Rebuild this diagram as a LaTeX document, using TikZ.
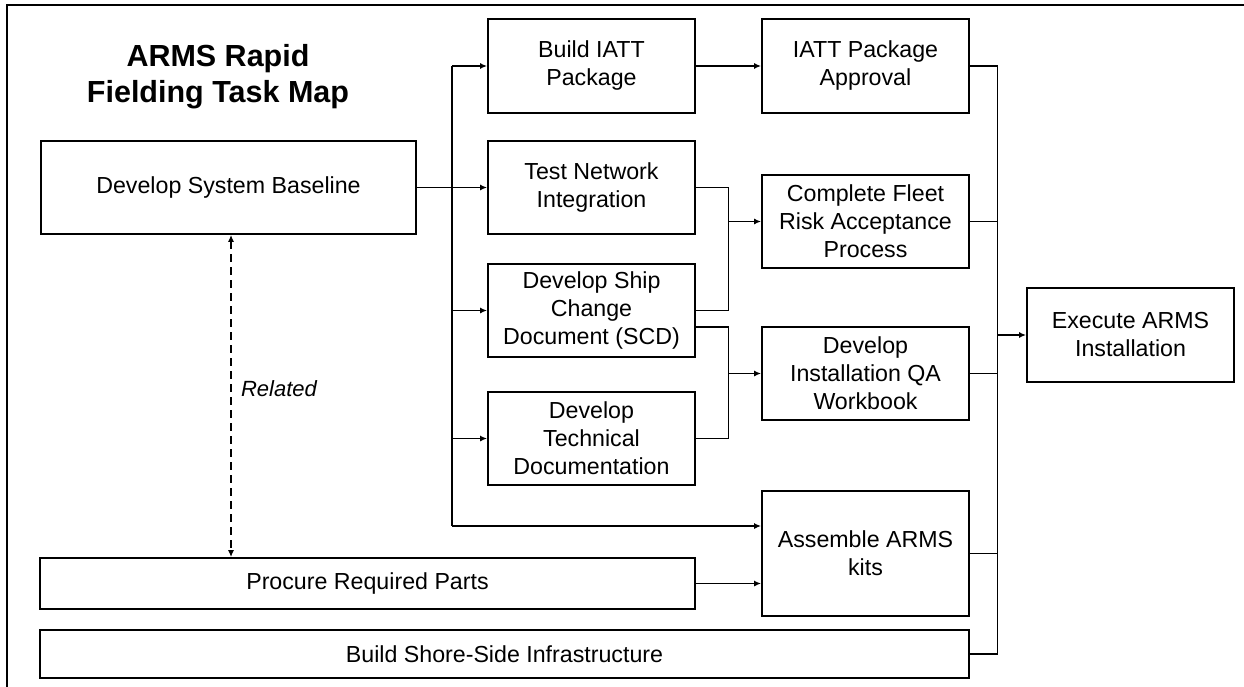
\documentclass[tikz,border=0pt]{standalone}
\usepackage{fontspec}
\setmainfont{Liberation Sans}
\usetikzlibrary{arrows.meta}
\begin{document}
\begin{tikzpicture}[x=1pt,y=-1pt,
  box/.style={draw, line width=1.8pt, align=center, inner sep=0pt,
    font=\fontsize{23.2}{28}\selectfont},
  conn/.style={line width=1.7pt},
  arr/.style={conn, -{Latex[length=7pt,width=6pt]}},
  rel/.style={line width=1.3pt, dash pattern=on 8pt off 5pt,
    {Latex[length=7pt,width=6pt]}-{Latex[length=7pt,width=6pt]}},
  frame/.style={line width=1.2pt}]
\useasboundingbox (0,0) rectangle (1244,687);
% frame (top and left edges)
\draw[frame] (1244,5) -- (7,5) -- (7,687);
% title
\node[align=center, inner sep=0pt, font=\fontsize{30.5}{36}\selectfont\bfseries] (title) at (218,77) {ARMS Rapid\\Fielding Task Map};
% boxes
\node[box, minimum width=375pt, minimum height=93pt] (base) at (228.5,187.5) {Develop System Baseline};
\node[box, minimum width=207pt, minimum height=94pt] (build) at (591.5,66) {Build IATT\\Package};
\node[box, minimum width=207pt, minimum height=94pt] (appr) at (865.5,66) {IATT Package\\Approval};
\node[box, minimum width=207pt, minimum height=93pt] (test) at (591.5,187.5) {Test Network\\Integration};
\node[box, minimum width=207pt, minimum height=93pt] (fleet) at (865.5,221.5) {Complete Fleet\\Risk Acceptance\\Process};
\node[box, minimum width=207pt, minimum height=93pt] (scd) at (591.5,310.5) {Develop Ship\\Change\\Document (SCD)};
\node[box, minimum width=207pt, minimum height=93pt] (qa) at (865.5,373.5) {Develop\\Installation QA\\Workbook};
\node[box, minimum width=207pt, minimum height=93pt] (tech) at (591.5,438.5) {Develop\\Technical\\Documentation};
\node[box, minimum width=207pt, minimum height=94pt] (exec) at (1130.5,335) {Execute ARMS\\Installation};
\node[box, minimum width=207pt, minimum height=125pt] (asm) at (865.5,553.5) {Assemble ARMS\\kits};
\node[box, minimum width=655pt, minimum height=51pt] (proc) at (367.5,583.5) {Procure Required Parts};
\node[box, minimum width=929pt, minimum height=48pt] (shore) at (504.5,654) {Build Shore-Side Infrastructure};
% related label
\node[inner sep=0pt, font=\fontsize{22}{26}\selectfont\itshape] (rellab) at (279,389) {Related};
% trunk from baseline
\coordinate (tktop) at (452,66);
\coordinate (tkbot) at (452,526);
\draw[arr] (base.east) -- (test.west);
\draw[conn] (tktop) -- (tkbot);
\draw[arr] (tktop) -- (build.west);
\draw[arr] (tktop |- scd.west) -- (scd.west);
\draw[arr] (tktop |- tech.west) -- (tech.west);
\draw[arr] (tkbot) -- (tkbot -| asm.west);
% build -> approval
\draw[arr] (build.east) -- (appr.west);
% merge to fleet
\coordinate (j1) at (728.5,221.5);
\draw[conn] (test.east) -| (j1) |- (scd.east);
\draw[arr] (j1) -- (fleet.west);
% merge to qa
\coordinate (j2) at (728.5,373.5);
\draw[conn] ([yshift=-16.5pt]scd.east) -| (j2) |- (tech.east);
\draw[arr] (j2) -- (qa.west);
% procure -> assemble
\draw[arr] (proc.east) -- (proc.east -| asm.west);
% bus to execute
\coordinate (btop) at (997.5,66);
\coordinate (bbot) at (997.5,654);
\draw[conn] (appr.east) -- (btop) -- (bbot) -- (shore.east);
\draw[conn] (fleet.east) -- (fleet.east -| btop);
\draw[conn] (qa.east) -- (qa.east -| btop);
\draw[conn] (asm.east) -- (asm.east -| btop);
\draw[arr] (exec.west -| btop) -- (exec.west);
% related dashed
\draw[rel] ([xshift=2.5pt]base.south) -- ([xshift=2.5pt]base.south |- proc.north);
\end{tikzpicture}
\end{document}
